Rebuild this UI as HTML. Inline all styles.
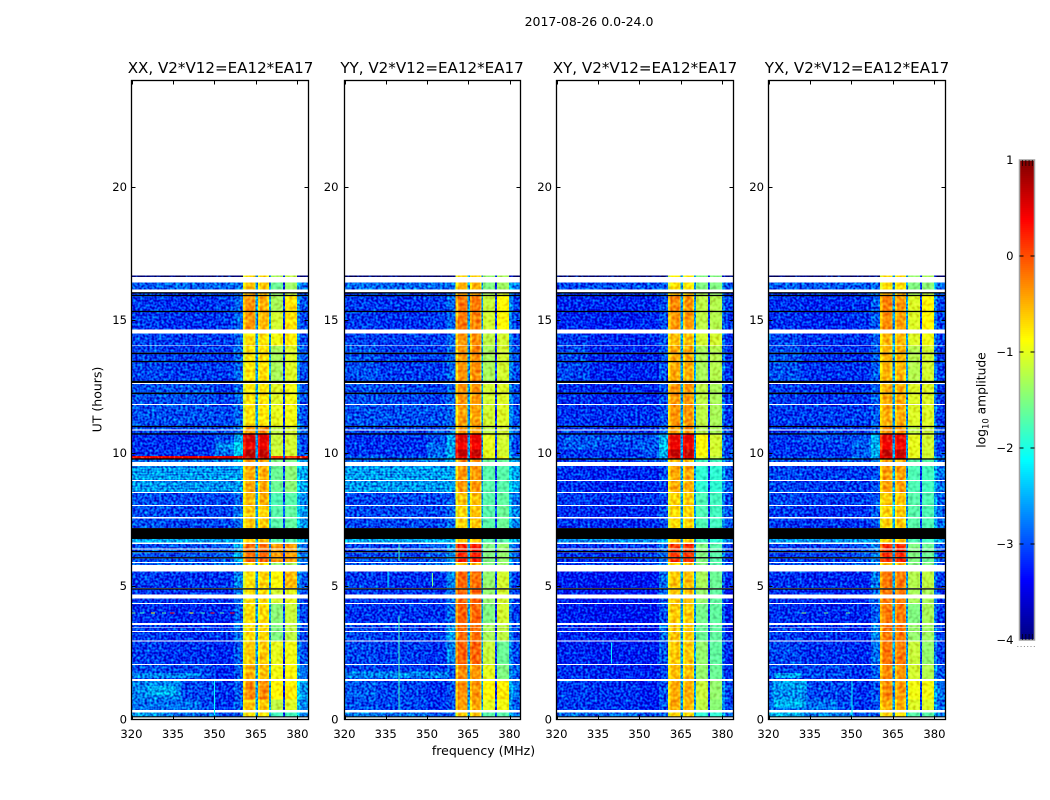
<!DOCTYPE html>
<html lang="en">
<head>
<meta charset="utf-8">
<title>2017-08-26 cross-power dynamic spectrum</title>
<style>
html,body{margin:0;padding:0;background:#fff;}
svg{display:block;font-family:"DejaVu Sans","Liberation Sans",sans-serif;fill:#000;}
</style>
</head>
<body>
<svg id="chart" xmlns="http://www.w3.org/2000/svg" width="1050" height="800" viewBox="0 0 1050 800">
  <defs>
    <filter id="speckle-strong" x="0" y="0" width="1" height="1" color-interpolation-filters="sRGB">
      <feTurbulence type="fractalNoise" baseFrequency="0.42" numOctaves="1" seed="3" result="n"/>
      <feColorMatrix in="n" type="matrix" values="0.5 0 0 0 0.15  1.6 0 0 0 -0.42  1.0 0 0 0 -0.05  0 0 0 0 1" result="m"/>
      <feComposite in="SourceGraphic" in2="m" operator="arithmetic" k1="0" k2="1" k3="1" k4="-0.5" result="c"/>
      <feComposite in="c" in2="SourceAlpha" operator="in"/>
    </filter>
    <filter id="speckle-soft" x="0" y="0" width="1" height="1" color-interpolation-filters="sRGB">
      <feTurbulence type="fractalNoise" baseFrequency="0.3" numOctaves="1" seed="8" result="n"/>
      <feColorMatrix in="n" type="matrix" values="0.8 0 0 0 0.1  2.0 0 0 0 -0.5  1.0 0 0 0 0  0 0 0 0 1" result="m"/>
      <feComposite in="SourceGraphic" in2="m" operator="arithmetic" k1="0" k2="1" k3="0.4" k4="-0.2" result="c"/>
      <feComposite in="c" in2="SourceAlpha" operator="in"/>
    </filter>
  </defs>
  <text x="589" y="26" font-size="12.5" text-anchor="middle">2017-08-26 0.0-24.0</text>
  <text x="220.5" y="73" font-size="15.1" text-anchor="middle">XX, V2*V12=EA12*EA17</text>
  <text x="432" y="73" font-size="15.1" text-anchor="middle">YY, V2*V12=EA12*EA17</text>
  <text x="645" y="73" font-size="15.1" text-anchor="middle">XY, V2*V12=EA12*EA17</text>
  <text x="857" y="73" font-size="15.1" text-anchor="middle">YX, V2*V12=EA12*EA17</text>
  <text transform="translate(101.5,399.5) rotate(-90)" font-size="12.5" text-anchor="middle">UT (hours)</text>
  <text x="483.5" y="755" font-size="12.5" text-anchor="middle">frequency (MHz)</text>
  <text transform="translate(985.5,400) rotate(-90)" font-size="12.3" text-anchor="middle">log<tspan font-size="8.4" dy="3">10</tspan><tspan dy="-3"> amplitude</tspan></text>
  <g id="panels"></g>
  <g id="colorbar"></g>
</svg>
<script>
/* ---------- axis data ---------- */
const xTicks = [320, 335, 350, 365, 380];
const yTicks = [0, 5, 10, 15, 20];
const xDomain = [320, 384];
const yDomain = [0, 24];
const colorDomain = [-4, 1];
const colorTicks = [1, 0, -1, -2, -3, -4];
const colorTickLabels = ["1", "0", "\u22121", "\u22122", "\u22123", "\u22124"];

/* ---------- time rows in UT hours; epoch -1 is a flagged (black) row, times not listed are blank ---------- */
const rowStart = [0.08,0.12,0.36,0.75,1.53,2.08,2.97,3.33,3.46,3.63,4.38,4.70,4.88,4.93,5.80,5.91,6.05,6.10,6.28,6.33,6.42,6.64,6.78,7.19,7.60,8.06,8.54,9.00,9.68,9.76,9.81,9.90,10.15,10.40,10.70,10.75,10.89,10.98,11.03,11.85,12.22,12.28,12.64,12.72,13.42,13.47,13.72,13.78,14.05,14.65,15.30,15.35,15.90,15.95,16.00,16.15,16.62];
const rowEnd = [0.12,0.27,0.75,1.44,2.05,2.93,3.29,3.43,3.55,4.34,4.55,4.88,4.93,5.55,5.88,6.05,6.10,6.28,6.33,6.38,6.60,6.78,7.19,7.55,8.02,8.50,8.95,9.52,9.76,9.81,9.90,10.15,10.40,10.70,10.75,10.86,10.98,11.03,11.82,12.22,12.28,12.60,12.72,13.42,13.47,13.72,13.78,14.02,14.50,15.30,15.35,15.90,15.95,16.00,16.05,16.42,16.67];
const rowEpoch = [-1,0,1,2,3,4,5,5,5,6,7,7,-1,8,9,10,-1,10,-1,10,10,11,-1,12,12,13,14,14,15,-1,16,17,18,19,-1,20,20,-1,21,22,-1,22,-1,23,-1,23,-1,23,24,25,-1,26,-1,27,-1,28,29];

/* ---------- frequency columns in MHz; source picks a band level, -1 uses the fixed level ---------- */
const colEdges = [320,332,350,357,360.4,361.2,364.4,364.8,365.7,366.4,369.2,369.8,370.4,374.7,375.5,379.8,381,384];
const colSource = [0,1,2,3,4,4,4,-1,5,5,5,-1,6,-1,7,8,8];
const colOffset = [0,0,0,0,-0.35,0,-0.2,0,-0.25,0,-0.2,0,0,0,0,0.3,0];
const colFixed = [0,0,0,0,0,0,0,-2.5,0,0,0,-2.5,0,-3.0,0,0,0];

/* ---------- log10 amplitude per epoch: low, mid, high floor, ramp, band A, B, C, D, tail ---------- */
const levelsXX = [
[-2.5,-2.7,-2.85,-2.8,-0.7,-0.7,-1.8,-1.8,-2.6],[-2.85,-2.9,-3.0,-2.8,-0.55,-0.6,-1.2,-1.05,-2.6],
[-2.85,-2.9,-3.0,-2.8,-0.3,-0.3,-0.85,-0.8,-2.5],[-2.85,-2.9,-3.05,-2.8,-0.5,-0.55,-0.95,-0.9,-2.7],
[-2.95,-3.0,-3.05,-2.8,-0.6,-0.6,-1.0,-0.95,-2.85],[-2.95,-3.0,-3.0,-2.7,-0.7,-0.7,-1.5,-1.2,-2.9],
[-3.0,-3.05,-3.05,-2.8,-0.7,-0.7,-1.45,-1.15,-2.9],[-2.95,-3.0,-3.0,-2.7,-0.75,-0.7,-1.1,-1.0,-2.9],
[-2.95,-3.0,-3.0,-2.6,-0.75,-0.65,-0.9,-0.55,-2.8],[-2.8,-2.8,-2.7,-2.6,-0.75,-0.7,-1.4,-1.3,-2.7],
[-2.85,-2.85,-2.8,-2.4,-0.15,-0.1,-0.4,-0.4,-2.7],[-2.45,-2.45,-2.45,-2.4,-0.6,-0.6,-1.7,-1.7,-2.4],
[-2.85,-2.9,-2.9,-2.7,-0.6,-0.6,-1.7,-1.65,-2.5],[-2.85,-2.9,-2.9,-2.75,-0.55,-0.5,-1.75,-1.7,-2.6],
[-2.55,-2.6,-2.6,-2.55,-0.45,-0.45,-1.6,-1.45,-2.45],[-2.7,-2.7,-2.6,-2.4,-0.4,-0.4,-1.5,-1.5,-2.5],
[0.3,0.35,0.4,0.2,0.7,0.7,0.1,0.1,0.2],[-3.0,-3.0,-2.7,-2.25,0.75,0.7,-1.1,-1.1,-2.9],
[-3.0,-3.0,-2.6,-2.2,0.45,0.45,-1.15,-1.1,-2.9],[-3.0,-3.0,-2.85,-2.4,0.6,0.55,-1.15,-1.1,-2.9],
[-2.9,-2.9,-2.9,-2.7,-0.35,-0.3,-1.2,-1.1,-2.8],[-2.85,-2.85,-2.9,-2.75,-0.75,-0.75,-1.0,-0.95,-2.85],
[-2.85,-2.85,-2.95,-2.75,-0.75,-0.75,-1.05,-0.95,-2.85],[-2.9,-2.95,-2.95,-2.75,-0.75,-0.7,-1.3,-1.05,-2.85],
[-2.9,-2.95,-2.95,-2.75,-0.7,-0.75,-0.95,-0.8,-2.9],[-2.95,-3.0,-2.95,-2.75,-0.35,-0.5,-1.1,-0.75,-2.9],
[-2.95,-3.0,-2.95,-2.75,-0.3,-0.45,-1.3,-0.75,-2.85],[-2.9,-2.95,-2.9,-2.75,-0.5,-0.5,-1.4,-1.2,-2.8],
[-2.8,-2.75,-2.75,-2.7,-0.6,-0.6,-1.6,-1.35,-2.7],[-4,-4,-4,-4,-0.7,-0.7,-1.3,-1.2,-4]];
const levelsYY = [
[-2.6,-2.7,-2.85,-2.8,-0.6,-0.6,-1.7,-1.7,-2.7],[-2.85,-2.9,-3.0,-2.85,-0.4,-0.45,-1.0,-0.95,-2.8],
[-2.8,-2.9,-3.0,-2.85,-0.3,-0.35,-0.85,-0.8,-2.7],[-2.9,-2.95,-3.0,-2.85,-0.3,-0.35,-1.0,-1.5,-2.8],
[-2.9,-2.95,-3.0,-2.6,-0.1,-0.1,-1.15,-1.6,-2.9],[-2.9,-2.95,-2.95,-2.5,-0.15,-0.15,-1.3,-1.2,-2.9],
[-3.0,-3.0,-3.0,-2.75,-0.1,-0.1,-1.5,-1.1,-2.95],[-2.95,-3.0,-3.0,-2.7,-0.1,-0.1,-1.4,-1.1,-2.95],
[-2.95,-3.0,-3.0,-2.6,-0.1,-0.15,-1.4,-1.1,-2.95],[-2.8,-2.8,-2.7,-2.6,-0.6,-0.5,-1.5,-1.4,-2.8],
[-2.9,-2.9,-2.8,-2.5,0.2,0.25,-1.5,-1.4,-2.8],[-2.4,-2.4,-2.4,-2.35,-0.6,-0.55,-1.7,-1.7,-2.4],
[-2.9,-2.9,-2.9,-2.75,-0.65,-0.55,-1.7,-1.6,-2.6],[-2.9,-2.9,-2.9,-2.8,-0.6,-0.55,-1.7,-1.65,-2.7],
[-2.55,-2.55,-2.55,-2.5,-0.35,-0.35,-1.7,-1.7,-2.45],[-2.7,-2.7,-2.6,-2.4,-0.3,-0.3,-1.6,-1.6,-2.5],
[-2.8,-2.8,-2.7,-2.4,0.5,0.5,-1.0,-1.0,-2.6],[-3.0,-3.0,-2.75,-2.45,0.7,0.7,-1.0,-1.1,-2.9],
[-3.0,-3.0,-2.75,-2.45,0.4,0.4,-1.0,-1.1,-2.9],[-3.0,-3.0,-2.85,-2.5,0.55,0.5,-1.0,-1.1,-2.9],
[-2.9,-2.9,-2.9,-2.7,-0.35,-0.35,-1.2,-1.1,-2.8],[-2.85,-2.85,-2.85,-2.75,-0.4,-0.4,-1.1,-1.05,-2.85],
[-2.85,-2.9,-2.95,-2.75,-0.35,-0.35,-1.1,-1.05,-2.85],[-2.85,-2.95,-2.95,-2.75,-0.35,-0.3,-1.3,-1.1,-2.85],
[-2.9,-2.95,-2.95,-2.75,-0.35,-0.3,-1.2,-1.1,-2.9],[-2.95,-3.0,-2.95,-2.75,-0.2,-0.25,-1.1,-0.85,-2.9],
[-2.95,-3.0,-2.95,-2.75,-0.2,-0.2,-1.15,-0.85,-2.9],[-2.9,-2.95,-2.9,-2.7,-0.4,-0.4,-1.3,-1.1,-2.85],
[-2.75,-2.75,-2.75,-2.7,-0.5,-0.5,-1.5,-1.35,-2.7],[-4,-4,-4,-4,-0.6,-0.6,-1.4,-1.3,-4]];
const levelsXY = [
[-2.7,-2.75,-2.85,-2.8,-0.7,-0.7,-1.9,-1.9,-2.8],[-2.95,-3.0,-3.1,-2.85,-0.45,-0.5,-1.2,-1.45,-2.9],
[-2.95,-3.0,-3.1,-2.85,-0.45,-0.45,-1.15,-1.4,-2.9],[-3.0,-3.05,-3.1,-2.9,-0.55,-0.55,-1.4,-1.6,-3.0],
[-3.05,-3.1,-3.1,-2.8,-0.6,-0.6,-1.4,-1.65,-3.05],[-3.05,-3.1,-3.1,-2.7,-0.6,-0.6,-1.6,-1.65,-3.05],
[-3.1,-3.15,-3.15,-2.85,-0.6,-0.6,-1.55,-1.65,-3.1],[-3.1,-3.15,-3.15,-2.8,-0.6,-0.55,-1.4,-1.65,-3.1],
[-3.1,-3.15,-3.15,-2.7,-0.6,-0.55,-1.3,-1.6,-3.05],[-2.95,-2.95,-2.9,-2.7,-0.6,-0.6,-1.5,-1.7,-2.95],
[-3.0,-3.0,-2.95,-2.7,0.1,0.15,-1.5,-1.7,-2.95],[-2.55,-2.55,-2.55,-2.5,-0.6,-0.6,-1.8,-1.9,-2.6],
[-3.0,-3.05,-3.05,-2.85,-0.7,-0.65,-1.75,-1.8,-2.85],[-2.95,-3.0,-3.0,-2.9,-0.65,-0.6,-1.75,-1.8,-2.9],
[-3.0,-3.05,-3.05,-2.9,-0.45,-0.45,-1.9,-1.9,-2.8],[-2.95,-2.95,-2.9,-2.7,-0.5,-0.5,-1.8,-1.8,-2.8],
[-2.95,-2.95,-2.9,-2.5,0.6,0.6,-1.0,-1.2,-2.85],[-3.0,-3.0,-2.85,-2.35,0.7,0.7,-0.9,-1.1,-2.95],
[-3.0,-2.9,-2.8,-2.3,0.45,0.45,-0.9,-1.1,-2.95],[-2.9,-2.85,-2.85,-2.35,0.5,0.5,-0.9,-1.1,-2.95],
[-2.95,-3.0,-3.0,-2.8,-0.4,-0.35,-1.25,-1.3,-2.95],[-3.0,-3.0,-3.0,-2.85,-0.35,-0.35,-1.2,-1.3,-3.0],
[-3.0,-3.05,-3.05,-2.85,-0.35,-0.35,-1.2,-1.3,-3.0],[-2.9,-3.05,-3.05,-2.85,-0.45,-0.45,-1.3,-1.25,-3.0],
[-2.95,-3.05,-3.05,-2.85,-0.55,-0.55,-1.1,-1.1,-3.0],[-3.05,-3.1,-3.05,-2.85,-0.35,-0.35,-1.2,-1.25,-3.0],
[-3.05,-3.05,-3.05,-2.85,-0.3,-0.35,-1.2,-1.25,-2.95],[-3.0,-3.0,-3.0,-2.85,-0.55,-0.55,-1.3,-1.4,-2.95],
[-2.9,-2.85,-2.85,-2.8,-0.75,-0.75,-1.5,-1.5,-2.8],[-4,-4,-4,-4,-0.8,-0.8,-1.5,-1.5,-4]];
const levelsYX = [
[-2.35,-2.6,-2.85,-2.8,-0.65,-0.65,-1.7,-1.7,-2.7],[-2.85,-2.9,-3.0,-2.85,-0.45,-0.5,-1.05,-1.05,-2.75],
[-2.85,-2.9,-3.0,-2.85,-0.3,-0.35,-0.95,-0.95,-2.7],[-2.9,-2.9,-3.0,-2.8,-0.3,-0.35,-1.1,-1.25,-2.85],
[-2.9,-3.0,-3.05,-2.7,-0.2,-0.2,-1.15,-1.4,-2.95],[-2.95,-3.0,-3.05,-2.6,-0.2,-0.2,-1.4,-1.35,-2.95],
[-3.0,-3.05,-3.05,-2.8,-0.2,-0.2,-1.5,-1.3,-3.0],[-3.0,-3.05,-3.05,-2.75,-0.2,-0.2,-1.3,-1.3,-3.0],
[-3.0,-3.05,-3.05,-2.65,-0.2,-0.2,-1.25,-1.2,-2.95],[-2.85,-2.85,-2.8,-2.6,-0.55,-0.5,-1.5,-1.5,-2.85],
[-2.95,-2.95,-2.85,-2.6,0.15,0.2,-1.5,-1.6,-2.9],[-2.5,-2.5,-2.5,-2.45,-0.6,-0.6,-1.75,-1.8,-2.5],
[-2.95,-3.0,-3.0,-2.8,-0.65,-0.6,-1.7,-1.75,-2.75],[-2.9,-2.95,-2.95,-2.85,-0.6,-0.55,-1.7,-1.75,-2.8],
[-2.9,-2.95,-2.95,-2.85,-0.4,-0.4,-1.75,-1.8,-2.7],[-2.85,-2.85,-2.8,-2.6,-0.4,-0.4,-1.7,-1.7,-2.7],
[-2.85,-2.85,-2.8,-2.5,0.55,0.55,-1.0,-1.1,-2.7],[-3.0,-3.0,-2.8,-2.35,0.7,0.7,-1.0,-1.1,-2.95],
[-3.0,-2.95,-2.75,-2.35,0.4,0.4,-1.0,-1.1,-2.95],[-2.95,-2.85,-2.85,-2.4,0.5,0.5,-1.0,-1.1,-2.95],
[-2.95,-2.95,-2.95,-2.75,-0.35,-0.35,-1.2,-1.15,-2.9],[-2.95,-2.95,-2.95,-2.8,-0.45,-0.45,-1.05,-1.05,-2.95],
[-2.95,-3.0,-3.0,-2.8,-0.45,-0.45,-1.05,-1.05,-2.95],[-2.85,-3.0,-3.0,-2.8,-0.5,-0.5,-1.25,-1.1,-2.95],
[-2.9,-3.0,-3.0,-2.8,-0.5,-0.5,-1.05,-0.95,-2.95],[-3.0,-3.05,-3.0,-2.8,-0.3,-0.4,-1.05,-0.85,-2.95],
[-3.0,-3.05,-3.0,-2.8,-0.25,-0.35,-1.05,-0.85,-2.9],[-2.95,-3.0,-2.95,-2.8,-0.5,-0.5,-1.3,-1.2,-2.85],
[-2.8,-2.8,-2.8,-2.75,-0.7,-0.7,-1.5,-1.45,-2.75],[-4,-4,-4,-4,-0.7,-0.7,-1.4,-1.3,-4]];

/* ---------- localised bright patches on the noise floor ---------- */
const patchPanel = [0,0,0,0,1,2,3,3,3,3,3];
const patchFreqLo = [320,320,326,320,320,322,320,321,322,324,322];
const patchFreqHi = [345,338,336,345,358,335,345,334,333,333,332];
const patchHourLo = [0.36,0.75,0.90,1.55,1.55,10.15,0.36,0.75,0.45,1.15,1.55];
const patchHourHi = [0.75,1.44,1.25,1.75,1.80,10.60,0.75,1.44,0.75,1.44,1.75];
const patchLevel = [-2.7,-2.6,-2.4,-2.6,-2.6,-2.8,-2.7,-2.55,-2.35,-2.45,-2.45];

/* ---------- thin features ---------- */
const streakHours = [8.62,8.72,8.84,9.06,9.15,9.24,9.33,9.42];
const streakLevel = [-2.35,-2.4,-2.35,-2.35,-2.4,-2.35,-2.4,-2.35];
const spikePanel = [0,0,0,0,0,0,0,0,0,0,3,3,3];
const spikeHour = [4,4,4,4,4,4,4,4,4,4,4,4,4];
const spikeFreq = [320,327,334,341,348.5,355.7,323,331,345,352,332,340,348];
const spikeLevel = [-1.6,-0.9,0.3,-0.9,0.3,0.3,-1.8,-1.7,-1.8,-1.7,-1.4,-1.6,-1.6];
const lineFreq = [349.9,339.7,339.7,335.7,351.9,339.7,350];
const lineStart = [0.12,0.36,5.95,4.95,5.0,2.1,0.12];
const lineEnd = [1.44,3.9,6.6,5.55,5.5,2.9,1.44];
const lineLevel = [-2.1,-1.8,-1.8,-2.2,-1.5,-2.2,-2.1];
const linePanel = [0,1,1,1,1,2,3];

const panelLevels = [levelsXX, levelsYY, levelsXY, levelsYX];
const panelNames = ["xx", "yy", "xy", "yx"];
const panelLeft = [131.5, 344.5, 556.5, 768.5];
const panelRight = [308.5, 520.5, 733.5, 945.5];
const yLabelGap = [4.5, 6, 4.5, 4.5];
const plotTop = 80.5, plotBottom = 719.5;
const cbLeft = 1019.5, cbRight = 1034.5, cbTop = 160, cbBottom = 640;

const NS = "http://www.w3.org/2000/svg";
function make(tag, attrs, parent) {
  const el = document.createElementNS(NS, tag);
  for (const k in attrs) el.setAttribute(k, attrs[k]);
  parent.appendChild(el);
  return el;
}
function jet(v) {
  const t = Math.min(1, Math.max(0, (v - colorDomain[0]) / (colorDomain[1] - colorDomain[0])));
  const ramp = (c) => Math.round(255 * Math.min(1, Math.max(0, 1.5 - Math.abs(4 * t - c))));
  return "rgb(" + ramp(3) + "," + ramp(2) + "," + ramp(1) + ")";
}
function xScale(p, f) {
  return panelLeft[p] + (f - xDomain[0]) / (xDomain[1] - xDomain[0]) * (panelRight[p] - panelLeft[p]);
}
function yScale(h) {
  return plotBottom - (h - yDomain[0]) / (yDomain[1] - yDomain[0]) * (plotBottom - plotTop);
}
function cbScale(v) {
  return cbBottom - (v - colorDomain[0]) / (colorDomain[1] - colorDomain[0]) * (cbBottom - cbTop);
}

const panelsRoot = document.getElementById("panels");
panelLevels.forEach(function (levels, p) {
  const g = make("g", {}, panelsRoot);
  
  

  const floorG = make("g", {filter: "url(#speckle-strong)", "shape-rendering": "crispEdges"}, g);
  
  
  const bandG = make("g", {filter: "url(#speckle-soft)", "shape-rendering": "crispEdges"}, g);
  
  
  const flagG = make("g", {}, g);
  
  

  rowStart.forEach(function (t0, r) {
    const y1 = yScale(t0), y0 = yScale(rowEnd[r]);
    const ep = rowEpoch[r];
    if (ep < 0) {
      const fl = make("rect", {x: panelLeft[p], y: y0, width: panelRight[p] - panelLeft[p], height: y1 - y0, fill: "#000"}, flagG);
      
      
      return;
    }
    colSource.forEach(function (src, c) {
      const v = src < 0 ? colFixed[c] : levels[ep][src] + colOffset[c];
      const x0 = xScale(p, colEdges[c]), x1 = xScale(p, colEdges[c + 1]);
      const isFloor = src < 0 || src < 4 || src === 8;
      const cell = make("rect", {x: x0, y: y0, width: x1 - x0, height: y1 - y0, fill: jet(v)}, isFloor ? floorG : bandG);
      
      
    });
  });

  patchFreqLo.forEach(function (lo, i) {
    if (patchPanel[i] !== p) return;
    const pa = make("rect", {x: xScale(p, lo), y: yScale(patchHourHi[i]), width: xScale(p, patchFreqHi[i]) - xScale(p, lo), height: yScale(patchHourLo[i]) - yScale(patchHourHi[i]), fill: jet(patchLevel[i])}, floorG);
    
    
  });

  if (p < 2) {
    streakHours.forEach(function (h, i) {
      const s = make("rect", {x: xScale(p, xDomain[0]), y: yScale(h + 0.02), width: xScale(p, 360.4) - xScale(p, xDomain[0]), height: yScale(h - 0.02) - yScale(h + 0.02), fill: jet(streakLevel[i])}, floorG);
      
      
    });
  }
  lineFreq.forEach(function (f, i) {
    if (linePanel[i] !== p) return;
    const l = make("rect", {x: xScale(p, f), y: yScale(lineEnd[i]), width: 1, height: yScale(lineStart[i]) - yScale(lineEnd[i]), fill: jet(lineLevel[i]), "shape-rendering": "crispEdges"}, g);
    
    
  });
  spikeFreq.forEach(function (f, i) {
    if (spikePanel[i] !== p) return;
    const sp = make("rect", {x: xScale(p, f), y: yScale(spikeHour[i] + 0.02), width: xScale(p, f + 1.5) - xScale(p, f), height: yScale(spikeHour[i] - 0.02) - yScale(spikeHour[i] + 0.02), fill: jet(spikeLevel[i]), "shape-rendering": "crispEdges"}, g);
    
    
  });

  const frame = make("rect", {x: panelLeft[p], y: plotTop, width: panelRight[p] - panelLeft[p], height: plotBottom - plotTop, fill: "none", stroke: "#000", "stroke-width": 1.3}, g);
  
  

  xTicks.forEach(function (tv) {
    const x = Math.round(xScale(p, tv)) + 0.5;
    const t1 = make("line", {x1: x, x2: x, y1: plotBottom, y2: plotBottom - 4, stroke: "#000", "stroke-width": 1}, g);
    
    
    const t2 = make("line", {x1: x, x2: x, y1: plotTop, y2: plotTop + 4, stroke: "#000", "stroke-width": 1}, g);
    
    
    const lb = make("text", {x: xScale(p, tv), y: 738, "font-size": 11.6, "text-anchor": "middle"}, g);
    
    
    lb.textContent = String(tv);
  });
  yTicks.forEach(function (tv) {
    const y = Math.round(yScale(tv) - 0.5) + 0.5;
    const t1 = make("line", {x1: panelLeft[p], x2: panelLeft[p] + 4, y1: y, y2: y, stroke: "#000", "stroke-width": 1}, g);
    
    
    const t2 = make("line", {x1: panelRight[p], x2: panelRight[p] - 4, y1: y, y2: y, stroke: "#000", "stroke-width": 1}, g);
    
    
    const lb = make("text", {x: panelLeft[p] - yLabelGap[p], y: yScale(tv) + 3.8, "font-size": 11.6, "text-anchor": "end"}, g);
    
    
    lb.textContent = String(tv);
  });
});

/* ---------- colour bar ---------- */
const cbRoot = document.getElementById("colorbar");
for (let py = cbTop; py < cbBottom; py += 2) {
  const v = colorDomain[1] - (py + 1 - cbTop) / (cbBottom - cbTop) * (colorDomain[1] - colorDomain[0]);
  const sw = make("rect", {x: cbLeft, y: py, width: cbRight - cbLeft, height: 2, fill: jet(v), "shape-rendering": "crispEdges"}, cbRoot);
  
  
}
const cbFrame = make("rect", {x: cbLeft, y: cbTop, width: cbRight - cbLeft, height: cbBottom - cbTop, fill: "none", stroke: "#a0a0a0", "stroke-width": 1.5}, cbRoot);


colorTicks.forEach(function (v, i) {
  const y = cbScale(v);
  const lb = make("text", {x: 1013.5, y: y + 3.8, "font-size": 11.6, "text-anchor": "end"}, cbRoot);
  
  
  lb.textContent = colorTickLabels[i];
  if (v === colorDomain[0] || v === colorDomain[1]) return;
  const a = make("line", {x1: cbLeft, x2: cbLeft + 4, y1: y, y2: y, stroke: "#000", "stroke-width": 1}, cbRoot);
  
  
  const b = make("line", {x1: cbRight, x2: cbRight - 4, y1: y, y2: y, stroke: "#000", "stroke-width": 1}, cbRoot);
  
  
});
for (let i = 0; i < 4; i++) {
  const x = cbLeft + 3 + i * 3.3;
  const top = make("line", {x1: x, x2: x, y1: cbTop, y2: cbTop + 6, stroke: "#000", "stroke-width": 1, "stroke-opacity": 0.7}, cbRoot);
  
  
  const bot = make("line", {x1: x, x2: x, y1: cbBottom, y2: cbBottom - 6, stroke: "#000", "stroke-width": 1, "stroke-opacity": 0.7}, cbRoot);
  
  
}
for (let i = 0; i < 6; i++) {
  const dot = make("rect", {x: 1017.3 + i * 3.3, y: 646, width: 1, height: 1, fill: "#888"}, cbRoot);
  
  
}
</script>
</body>
</html>
